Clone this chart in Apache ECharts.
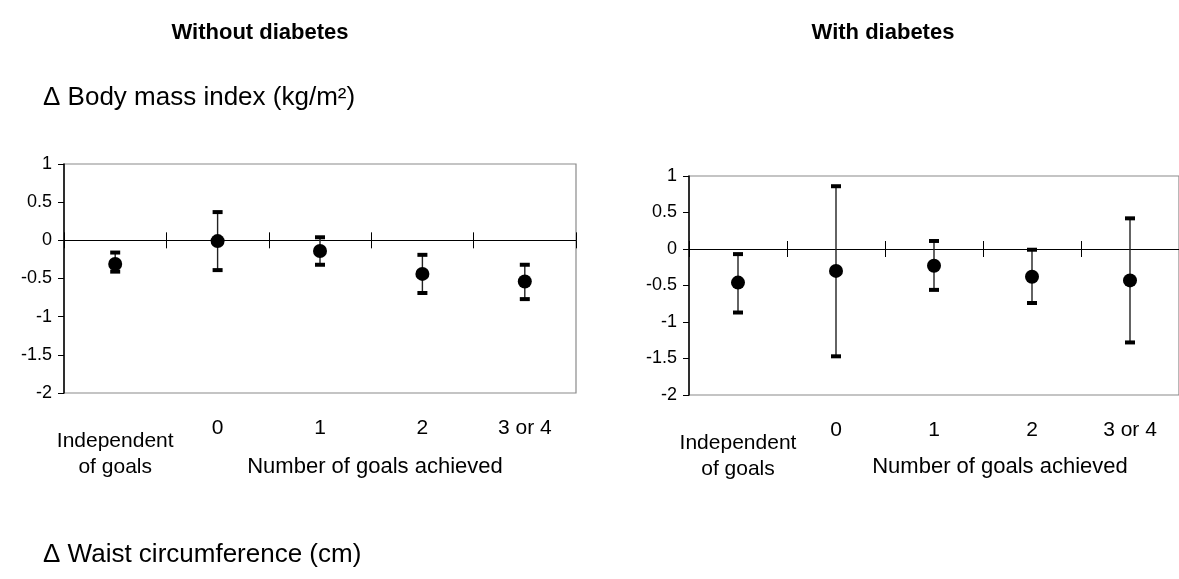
<!DOCTYPE html>
<html>
<head>
<meta charset="utf-8">
<script src="https://cdn.jsdelivr.net/npm/echarts@6/dist/echarts.min.js"></script>
<style>
  html, body { margin: 0; padding: 0; background: #fff; }
  #chart { width: 1179px; height: 579px; }
</style>
</head>
<body>
<div id="chart"></div>
<script>
// ---- data ----
const categories = ['Independent\nof goals', '0', '1', '2', '3 or 4'];
const yTicks = { min: -2, max: 1, interval: 0.5 };

// Without diabetes: Δ BMI (kg/m²)
const noDiabMean  = [-0.31, -0.01, -0.14, -0.44, -0.54];
const noDiabLow   = [-0.41, -0.39, -0.32, -0.69, -0.77];
const noDiabHigh  = [-0.16,  0.37,  0.04, -0.19, -0.32];

// With diabetes: Δ BMI (kg/m²)
const diabMean  = [-0.46, -0.30, -0.23, -0.38, -0.43];
const diabLow   = [-0.87, -1.47, -0.56, -0.74, -1.28];
const diabHigh  = [-0.07,  0.86,  0.11, -0.01,  0.42];

const panelTitles = ['Without diabetes', 'With diabetes'];
const measureTitle = 'Δ Body mass index (kg/m²)';
const nextMeasureTitle = 'Δ Waist circumference (cm)';
const xAxisTitle = 'Number of goals achieved';

// ---- chart ----
const FONT = '"Liberation Sans", Arial, Helvetica, sans-serif';
const chart = echarts.init(document.getElementById('chart'), null, { renderer: 'canvas' });

const grids = [
  { left: 64, right: 603, top: 164, bottom: 186, show: true, borderColor: '#8a8a8a', borderWidth: 1.2, backgroundColor: 'transparent' },
  { left: 689, right: -8, top: 176, bottom: 184, show: true, borderColor: '#8a8a8a', borderWidth: 1.2, backgroundColor: 'transparent' }
];

function xAxesFor(g) {
  const base = { type: 'category', gridIndex: g, data: categories, boundaryGap: true };
  return [
    // zero line with ticks pointing down
    Object.assign({}, base, {
      position: 'bottom',
      axisLine: { show: true, onZero: true, onZeroAxisIndex: g, lineStyle: { color: '#000', width: 1.2 } },
      axisTick: { show: true, length: 8, inside: false, lineStyle: { color: '#000', width: 1 } },
      axisLabel: { show: false }, splitLine: { show: false }
    }),
    // zero line ticks pointing up
    Object.assign({}, base, {
      position: 'top',
      axisLine: { show: false, onZero: true, onZeroAxisIndex: g },
      axisTick: { show: true, length: 8, inside: false, lineStyle: { color: '#000', width: 1 } },
      axisLabel: { show: false }, splitLine: { show: false }
    }),
    // numeric goal labels
    Object.assign({}, base, {
      position: 'bottom',
      axisLine: { show: false, onZero: false },
      axisTick: { show: false },
      axisLabel: {
        show: true, interval: 0, margin: 25, color: '#000', fontSize: 21, fontFamily: FONT,
        formatter: (v, i) => i === 0 ? '' : v
      }
    }),
    // "Independent of goals" label
    Object.assign({}, base, {
      position: 'bottom',
      axisLine: { show: false, onZero: false },
      axisTick: { show: false },
      axisLabel: {
        show: true, interval: 0, margin: 35, color: '#000', fontSize: 21, fontFamily: FONT,
        lineHeight: 26, align: 'center',
        formatter: (v, i) => i === 0 ? v : ''
      }
    })
  ];
}

function yAxisFor(g) {
  return {
    type: 'value', gridIndex: g, min: yTicks.min, max: yTicks.max, interval: yTicks.interval,
    axisLine: { show: true, lineStyle: { color: '#000', width: 1.5 } },
    axisTick: { show: true, length: 6, lineStyle: { color: '#000', width: 1 } },
    splitLine: { show: false },
    axisLabel: { color: '#000', fontSize: 18, fontFamily: FONT, margin: 12 }
  };
}

function errorSeries(g, low, high) {
  return {
    type: 'custom', xAxisIndex: g * 4, yAxisIndex: g,
    data: categories.map((c, i) => [i, low[i], high[i]]),
    renderItem: function (params, api) {
      const x = api.value(0);
      const pHigh = api.coord([x, api.value(2)]);
      const pLow = api.coord([x, api.value(1)]);
      const hw = 5, hh = 2;
      return {
        type: 'group',
        children: [
          { type: 'line', shape: { x1: pHigh[0], y1: pHigh[1], x2: pLow[0], y2: pLow[1] },
            style: { stroke: '#222', lineWidth: 1.4 } },
          { type: 'rect', shape: { x: pHigh[0] - hw, y: pHigh[1] - hh, width: hw * 2, height: hh * 2 },
            style: { fill: '#000' } },
          { type: 'rect', shape: { x: pLow[0] - hw, y: pLow[1] - hh, width: hw * 2, height: hh * 2 },
            style: { fill: '#000' } }
        ]
      };
    },
    z: 3, silent: true
  };
}

function pointSeries(g, mean) {
  return {
    type: 'scatter', xAxisIndex: g * 4, yAxisIndex: g,
    data: categories.map((c, i) => [i, mean[i]]),
    symbol: 'circle', symbolSize: 14,
    itemStyle: { color: '#000', opacity: 1 },
    z: 4, silent: true
  };
}

const option = {
  animation: false,
  backgroundColor: '#fff',
  grid: grids,
  xAxis: [].concat(xAxesFor(0), xAxesFor(1)),
  yAxis: [yAxisFor(0), yAxisFor(1)],
  series: [
    errorSeries(0, noDiabLow, noDiabHigh),
    pointSeries(0, noDiabMean),
    errorSeries(1, diabLow, diabHigh),
    pointSeries(1, diabMean)
  ],
  graphic: [
    { type: 'text', x: 260, y: 33, style: { text: panelTitles[0], font: 'bold 22px ' + FONT, fill: '#000', textAlign: 'center', textVerticalAlign: 'middle' } },
    { type: 'text', x: 883, y: 33, style: { text: panelTitles[1], font: 'bold 22px ' + FONT, fill: '#000', textAlign: 'center', textVerticalAlign: 'middle' } },
    { type: 'text', x: 43, y: 98, style: { text: measureTitle, font: '26px ' + FONT, fill: '#000', textAlign: 'left', textVerticalAlign: 'middle' } },
    { type: 'text', x: 43, y: 555, style: { text: nextMeasureTitle, font: '26px ' + FONT, fill: '#000', textAlign: 'left', textVerticalAlign: 'middle' } },
    { type: 'text', x: 375, y: 467, style: { text: xAxisTitle, font: '22px ' + FONT, fill: '#000', textAlign: 'center', textVerticalAlign: 'middle' } },
    { type: 'text', x: 1000, y: 467, style: { text: xAxisTitle, font: '22px ' + FONT, fill: '#000', textAlign: 'center', textVerticalAlign: 'middle' } }
  ]
};

chart.setOption(option);
</script>
</body>
</html>
